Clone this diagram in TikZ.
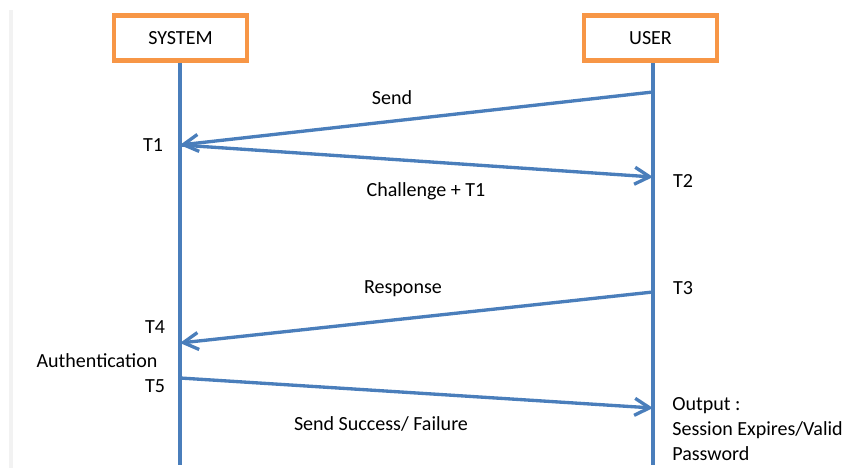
\documentclass[tikz,border=0pt]{standalone}
\usepackage{fontspec}
\setmainfont{Carlito}
\usetikzlibrary{arrows.meta}
\definecolor{lifeblue}{HTML}{4A7EBB}
\definecolor{boxorange}{HTML}{F79646}
\tikzset{
    actor/.style={draw=boxorange, line width=2.3pt, fill=white,
        minimum width=2.66cm, minimum height=0.9cm},
    lifeline/.style={draw=lifeblue, line width=2.3pt},
    msg/.style={draw=lifeblue, line width=1.9pt,
        -{Straight Barb[length=0.3cm, width=0.34cm, line width=1.9pt]}},
    stamp/.style={inner sep=0pt}
}
\begin{document}
\begin{tikzpicture}[font=\fontsize{11.4}{14.2}\selectfont]
        \useasboundingbox (0,0) rectangle (17.18,9.36);
        % faint strip on the left edge
        \fill[black!5] (0.18,0) rectangle (0.26,9.16);
        % the two lifelines and their heads
        \draw[lifeline] (3.6,8.2)  -- (3.6,0.06);
        \draw[lifeline] (13.06,8.2) -- (13.06,0.06);
        \node[actor] (system) at (3.61,8.6)  {SYSTEM};
        \node[actor] (user)   at (13.01,8.6) {USER};
        % points where the messages leave and arrive
        \coordinate (u1) at (13.06,7.52);
        \coordinate (s1) at (3.6,6.46);
        \coordinate (u2) at (13.06,5.82);
        \coordinate (u3) at (13.06,3.52);
        \coordinate (s4) at (3.6,2.5);
        \coordinate (s5) at (3.6,1.8);
        \coordinate (u5) at (13.06,1.2);
        % the messages
        \draw[msg] (u1) -- (s1);
        \draw[msg] (s1) -- (u2);
        \draw[msg] (u3) -- (s4);
        \draw[msg] (s5) -- (u5);
        \node (send)      at (7.84,7.4)  {Send};
        \node (challenge) at (8.52,5.54) {Challenge + T1};
        \node (response)  at (8.06,3.58) {Response};
        \node (result)    at (7.62,0.88) {Send Success/ Failure};
        % time stamps
        \node[stamp] (t1) at (3.06,6.46) {T1};
        \node[stamp] (t2) at (13.66,5.74) {T2};
        \node[stamp] (t3) at (13.66,3.6) {T3};
        \node[stamp] (t4) at (3.1,2.82) {T4};
        \node[stamp] (auth) at (1.94,2.14) {Authentication};
        \node[stamp] (t5) at (3.1,1.64) {T5};
        \node[stamp, anchor=west, align=left] (output) at (13.44,0.78)
            {Output :\\Session Expires/Valid\\Password};
    \end{tikzpicture}
\end{document}
